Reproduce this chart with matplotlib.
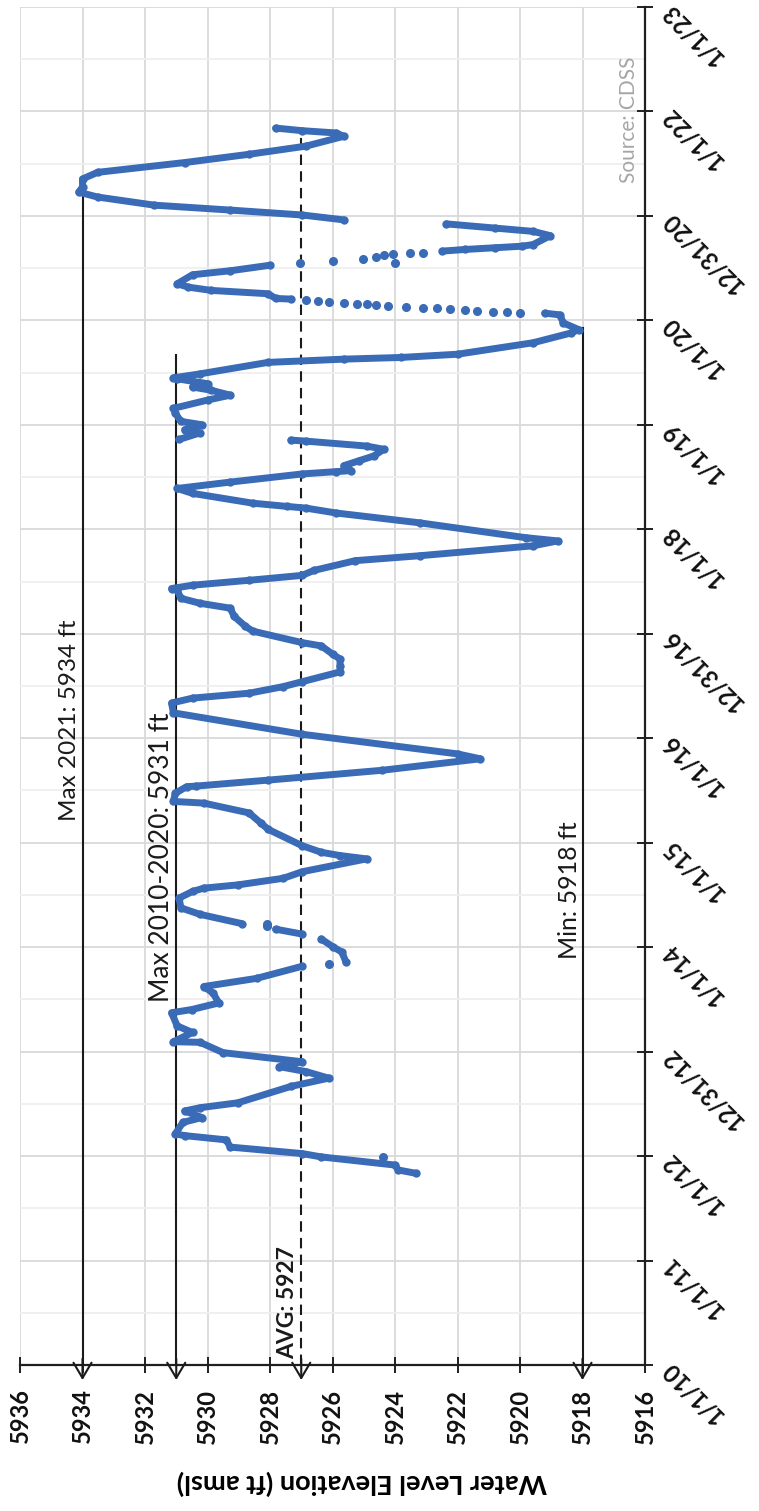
import matplotlib
matplotlib.use("Agg")
import matplotlib.pyplot as plt
import numpy as np

plt.rcParams['font.family'] = ['Lato', 'DejaVu Sans']

# ---------------- data (decimal year, water level ft amsl) ----------------
# dense record, None separates gaps in the record
line_years = [
    2011.835, 2011.867, 2011.914, 2011.992, 2012.024, 2012.086, 2012.155, 2012.196,
    2012.212, 2012.322, 2012.369, 2012.432, 2012.463, 2012.510, 2012.667, 2012.746,
    2012.809, 2012.856, 2012.903, 2012.990, 2013.089, 2013.095, 2013.183, 2013.246,
    2013.372, 2013.403, 2013.466, 2013.560, 2013.623, 2013.701, 2013.817, None,
    2013.858, 2013.953, 2014.006, 2014.078, None,
    2014.125, 2014.172, None,
    2014.226, 2014.314, 2014.376, 2014.470, 2014.533, 2014.565, 2014.596, 2014.659,
    2014.722, 2014.845, 2014.877, 2014.908, 2014.971, 2015.128, 2015.190, 2015.285,
    2015.379, 2015.395, 2015.473, 2015.536, 2015.542, 2015.599, 2015.693, 2015.803,
    2015.850, 2016.038, 2016.243, 2016.337, 2016.384, 2016.431, 2016.494, 2016.541,
    2016.635, 2016.696, 2016.758, 2016.806, 2016.884, 2016.915, 2017.025, 2017.072,
    2017.167, 2017.245, 2017.292, 2017.339, 2017.418, 2017.433, 2017.465, 2017.512,
    2017.559, 2017.606, 2017.700, 2017.747, 2017.842, 2017.889, 2017.920, 2018.062,
    2018.156, 2018.203, 2018.219, 2018.250, 2018.344, 2018.391, 2018.452, 2018.530,
    2018.552, 2018.562, 2018.609, 2018.656, 2018.703, 2018.766, 2018.797, 2018.844,
    2018.854, None,
    2018.860, 2018.923, 2018.954, 2019.001, 2019.033, 2019.111, 2019.158, 2019.237,
    2019.284, 2019.331, 2019.362, 2019.394, 2019.441, 2019.450, 2019.488, 2019.598,
    2019.629, 2019.645, 2019.676, 2019.786, 2019.880, 2019.912, 2019.975, 2020.053,
    2020.069, None,
    2020.204, 2020.210, 2020.255, 2020.287, 2020.318, 2020.350, 2020.437, 2020.475,
    2020.528, None,
    2020.663, 2020.679, 2020.695, 2020.710, 2020.726, 2020.811, 2020.852, 2020.883,
    2020.924, None,
    2020.962, 2021.009, 2021.056, 2021.103, 2021.181, 2021.228, 2021.276, 2021.354,
    2021.417, 2021.511, 2021.590, 2021.668, 2021.762, 2021.794, 2021.816, 2021.841,
]
line_levels = [
    5923.33, 5923.90, 5924.00, 5926.36, 5926.97, 5929.27, 5929.40, 5930.73,
    5931.03, 5930.79, 5930.18, 5930.73, 5930.24, 5929.03, 5927.33, 5926.12,
    5926.85, 5927.70, 5926.97, 5929.50, 5930.24, 5931.09, 5930.48, 5930.97,
    5931.15, 5930.50, 5929.64, 5929.82, 5930.12, 5928.43, 5926.97, None,
    5925.57, 5925.70, 5926.00, 5926.36, None,
    5926.97, 5927.82, None,
    5928.91, 5930.24, 5930.85, 5930.91, 5930.48, 5930.12, 5929.03, 5927.58,
    5926.97, 5924.91, 5925.76, 5926.36, 5926.97, 5928.06, 5928.30, 5928.67,
    5930.12, 5931.09, 5931.03, 5930.67, 5930.36, 5928.06, 5924.42, 5921.27,
    5922.00, 5926.97, 5931.09, 5931.15, 5930.48, 5928.67, 5927.58, 5926.97,
    5925.76, 5925.76, 5925.76, 5926.00, 5926.36, 5926.97, 5928.55, 5928.79,
    5929.15, 5929.27, 5930.24, 5930.85, 5930.97, 5931.15, 5930.48, 5928.67,
    5926.97, 5926.60, 5925.27, 5923.21, 5919.58, 5918.79, 5919.82, 5923.21,
    5925.88, 5926.85, 5927.45, 5928.55, 5930.48, 5930.97, 5929.27, 5926.97,
    5925.88, 5925.40, 5925.64, 5925.15, 5924.67, 5924.36, 5924.91, 5926.85,
    5927.33, None,
    5930.91, 5930.24, 5930.73, 5930.18, 5930.85, 5931.03, 5931.09, 5930.00,
    5929.27, 5929.88, 5930.48, 5930.00, 5930.97, 5931.09, 5930.24, 5928.06,
    5925.64, 5923.82, 5922.00, 5919.58, 5918.36, 5918.12, 5918.61, 5918.73,
    5919.21, None,
    5927.33, 5927.82, 5928.06, 5929.88, 5930.61, 5930.97, 5930.48, 5929.27,
    5928.00, None,
    5922.49, 5921.76, 5920.79, 5919.94, 5919.58, 5919.03, 5919.58, 5920.79,
    5922.36, None,
    5925.64, 5926.97, 5929.27, 5931.70, 5933.52, 5934.12, 5934.00, 5934.00,
    5933.52, 5930.73, 5928.67, 5926.85, 5925.64, 5925.88, 5926.97, 5927.82,
]

# sparse (isolated) readings
dot_years = [
    2011.992, 2013.843, 2014.200, 2014.220,
    2020.069, 2020.078, 2020.085, 2020.094, 2020.100, 2020.110, 2020.116, 2020.122,
    2020.132, 2020.141, 2020.147, 2020.154, 2020.157, 2020.169, 2020.179, 2020.185,
    2020.194,
    2020.547, 2020.553, 2020.569, 2020.591, 2020.610, 2020.622, 2020.632, 2020.641,
    2020.648,
]
dot_levels = [
    5924.40, 5926.10, 5928.10, 5928.10,
    5920.00, 5920.42, 5920.85, 5921.39, 5921.76, 5922.24, 5922.67, 5923.09,
    5923.64, 5924.24, 5924.61, 5924.91, 5925.21, 5925.64, 5926.12, 5926.48,
    5926.85,
    5927.03, 5924.00, 5926.00, 5925.03, 5924.60, 5924.36, 5924.06, 5923.52,
    5923.09,
]

# reference lines
ref_values = [5934, 5931, 5927, 5918]
ref_end_years = [2021.24, 2019.67, 2021.81, 2019.93]
ref_styles = ['-', '-', '--', '-']
ref_labels = ['Max 2021: 5934 ft', 'Max 2010-2020: 5931 ft', 'AVG: 5927', 'Min: 5918 ft']

value_ticks = [5916, 5918, 5920, 5922, 5924, 5926, 5928, 5930, 5932, 5934, 5936]
date_tick_years = [2010, 2011, 2012, 2013, 2014, 2015, 2016, 2017, 2018, 2019, 2020, 2021, 2022, 2023]
date_labels = ['1/1/10', '1/1/11', '1/1/12', '12/31/12', '1/1/14', '1/1/15', '1/1/16',
               '12/31/16', '1/1/18', '1/1/19', '1/1/20', '12/31/20', '1/1/22', '1/1/23']

BLUE = '#3A6BB7'
AXIS = '#1f1f1f'

# ---------------- figure ----------------
W, H = 759, 1511
fig = plt.figure(figsize=(W / 100, H / 100), dpi=100)
ax = fig.add_axes([20 / W, 146 / H, 625 / W, 1358 / H])

ax.set_xlim(5936, 5916)
ax.set_ylim(2010, 2023)

# grid
ax.set_axisbelow(True)
ax.set_xticks(value_ticks)
ax.set_yticks(date_tick_years)
ax.set_yticks([y + 0.5 for y in date_tick_years[:-1]], minor=True)
ax.grid(axis='x', which='major', color='#d9d9d9', lw=1.3)
ax.grid(axis='y', which='major', color='#d9d9d9', lw=1.3)
ax.grid(axis='y', which='minor', color='#efefef', lw=1.3)

# spines
for s in ['left', 'top']:
    ax.spines[s].set_visible(False)
for s in ['bottom', 'right']:
    ax.spines[s].set_color(AXIS)
    ax.spines[s].set_linewidth(1.6)

# value axis (bottom)
ax.set_xticklabels([str(v) for v in value_ticks], fontweight='bold', fontsize=17, color='#111111')
ax.tick_params(axis='x', which='major', direction='inout', length=12, width=1.4,
               color=AXIS, labelrotation=90, pad=11)

# date axis (right)
ax.yaxis.tick_right()
ax.set_yticklabels(date_labels, fontweight='bold', fontsize=17, color='#111111')
ax.tick_params(axis='y', which='major', direction='inout', length=12, width=1.4,
               color=AXIS, pad=9)
ax.tick_params(axis='y', which='minor', length=0)
for lbl in ax.get_yticklabels():
    lbl.set_rotation(135)
    lbl.set_rotation_mode('anchor')
    lbl.set_horizontalalignment('right')
    lbl.set_verticalalignment('center')

ax.set_xlabel('Water Level Elevation (ft amsl)', rotation=180, fontweight='bold',
              fontsize=19.5, va='center', ha='center')
ax.xaxis.set_label_coords(0.547, -0.087)

# reference lines with arrow heads at the axis
for v, ye, ls in zip(ref_values, ref_end_years, ref_styles):
    if ls == '--':
        ax.plot([v, v], [2010.0, ye], color='#1a1a1a', lw=1.5, ls=(0, (5, 3)), zorder=2, clip_on=False)
    else:
        ax.plot([v, v], [2010.0, ye], color='#1a1a1a', lw=1.5, zorder=2, clip_on=False)
    ax.annotate('', xy=(v, 2009.856), xytext=(v, 2010.06),
                arrowprops=dict(arrowstyle='->,head_length=1.1,head_width=0.65',
                                mutation_scale=10, lw=1.5, color='#1a1a1a',
                                shrinkA=0, shrinkB=0),
                annotation_clip=False, zorder=4)

# water level data
ly = np.array([np.nan if y is None else y for y in line_years], dtype=float)
lv = np.array([np.nan if v is None else v for v in line_levels], dtype=float)
ax.plot(lv, ly, color=BLUE, lw=5, solid_capstyle='round', solid_joinstyle='round',
        marker='o', ms=5, zorder=3)
ax.plot(dot_levels, dot_years, ls='none', marker='o', ms=5.5, color=BLUE, zorder=3)

# annotation texts
ax.text(5934.40, 2016.17, ref_labels[0], rotation=90, ha='center', va='center',
        fontsize=17.5, color='#1a1a1a')
ax.text(5931.47, 2014.86, ref_labels[1], rotation=90, ha='center', va='center',
        fontsize=19, color='#1a1a1a')
ax.text(5927.42, 2010.60, ref_labels[2], rotation=90, ha='center', va='center',
        fontsize=16.5, fontweight='bold', color='#1a1a1a')
ax.text(5918.42, 2014.55, ref_labels[3], rotation=90, ha='center', va='center',
        fontsize=18, color='#1a1a1a')
ax.text(5916.50, 2021.92, 'Source: CDSS', rotation=90, ha='center', va='center',
        fontsize=15, color='#a6a6a6')

fig.savefig('out.png', dpi=100)
